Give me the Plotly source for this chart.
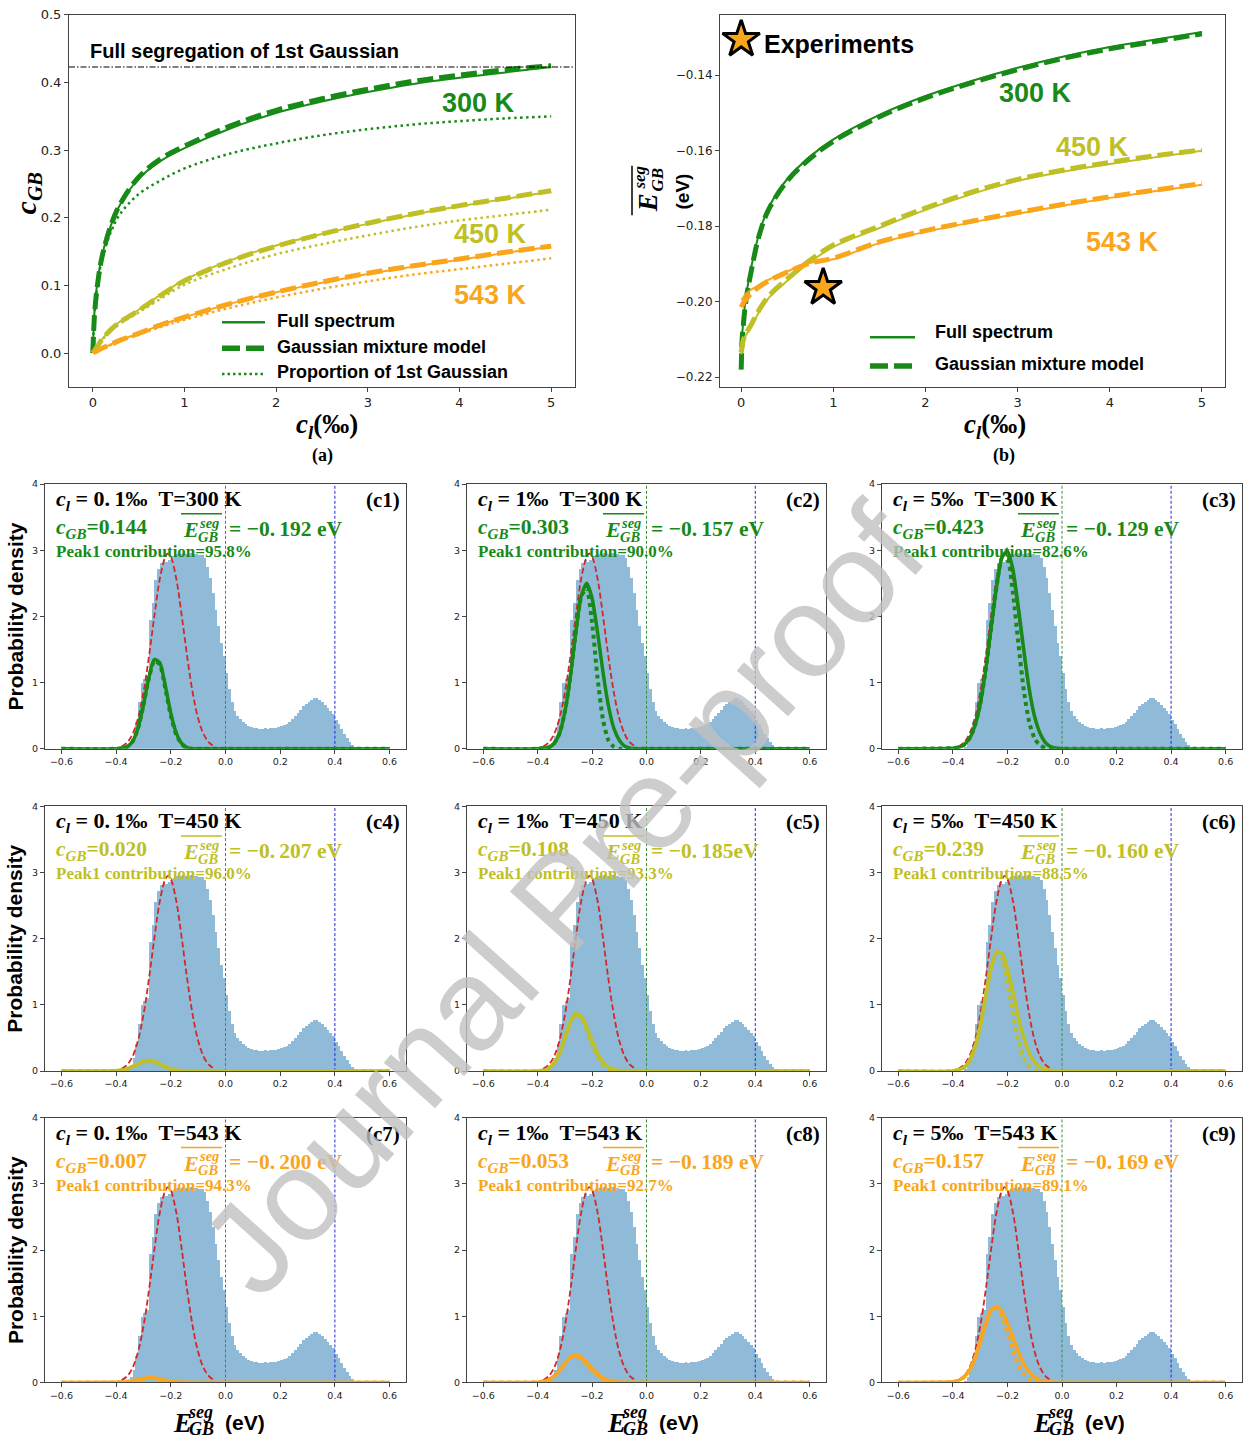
import plotly.graph_objects as go

W, H = 1245, 1445

GREEN = "#178a17"
OLIVE = "#bfbf26"
ORANGE = "#f9a61c"
HIST_BLUE = "rgba(31,119,180,0.5)"
RED = "#d62728"

# ---------------- panel (a) / (b) data ----------------
CL = [0, 0.01, 0.02, 0.05, 0.1, 0.2, 0.3, 0.5, 0.75, 1, 1.5, 2, 2.5, 3, 3.5, 4, 4.5, 5]

CGB_FULL_300 = [0, 0.04, 0.065, 0.105, 0.144, 0.19, 0.22, 0.258, 0.285, 0.303, 0.332, 0.355, 0.372, 0.386, 0.398, 0.407, 0.415, 0.423]
CGB_GMM_300 = [0, 0.035, 0.06, 0.10, 0.142, 0.19, 0.221, 0.26, 0.288, 0.306, 0.336, 0.359, 0.376, 0.39, 0.402, 0.411, 0.419, 0.425]
CGB_P1_300 = [0, 0.038, 0.063, 0.10, 0.138, 0.18, 0.206, 0.235, 0.256, 0.273, 0.295, 0.31, 0.322, 0.331, 0.338, 0.343, 0.347, 0.35]

CGB_FULL_450 = [0, 0.002, 0.004, 0.01, 0.02, 0.036, 0.047, 0.064, 0.087, 0.108, 0.137, 0.159, 0.176, 0.191, 0.205, 0.217, 0.228, 0.239]
CGB_GMM_450 = [0, 0.002, 0.004, 0.01, 0.02, 0.035, 0.046, 0.063, 0.086, 0.107, 0.136, 0.158, 0.176, 0.192, 0.206, 0.218, 0.229, 0.24]
CGB_P1_450 = [0, 0.002, 0.004, 0.0095, 0.019, 0.034, 0.044, 0.06, 0.081, 0.101, 0.126, 0.146, 0.161, 0.174, 0.186, 0.196, 0.204, 0.212]

CGB_FULL_543 = [0, 0.001, 0.0015, 0.0035, 0.007, 0.013, 0.019, 0.029, 0.042, 0.053, 0.073, 0.09, 0.104, 0.117, 0.128, 0.138, 0.148, 0.157]
CGB_GMM_543 = [0, 0.001, 0.0015, 0.0035, 0.007, 0.013, 0.019, 0.029, 0.042, 0.053, 0.073, 0.09, 0.105, 0.118, 0.129, 0.139, 0.149, 0.158]
CGB_P1_543 = [0, 0.001, 0.0014, 0.0033, 0.0066, 0.012, 0.018, 0.027, 0.039, 0.049, 0.067, 0.082, 0.095, 0.106, 0.116, 0.124, 0.132, 0.14]

FULL_SEG_LEVEL = 0.423

ESEG_FULL_300 = [-0.218, -0.209, -0.206, -0.199, -0.192, -0.1815, -0.175, -0.1675, -0.1615, -0.157, -0.1505, -0.1455, -0.1415, -0.138, -0.135, -0.1325, -0.1305, -0.1285]
ESEG_GMM_300 = [-0.218, -0.210, -0.207, -0.200, -0.193, -0.182, -0.1755, -0.168, -0.162, -0.1575, -0.151, -0.146, -0.142, -0.1385, -0.1355, -0.133, -0.131, -0.129]
ESEG_FULL_450 = [-0.214, -0.2125, -0.211, -0.209, -0.207, -0.2025, -0.199, -0.1945, -0.1895, -0.1855, -0.1805, -0.1757, -0.1715, -0.168, -0.1655, -0.1635, -0.1617, -0.160]
ESEG_GMM_450 = [-0.2135, -0.212, -0.2105, -0.2085, -0.2065, -0.202, -0.1985, -0.194, -0.189, -0.185, -0.180, -0.1752, -0.171, -0.1676, -0.1651, -0.1631, -0.1613, -0.1598]
ESEG_FULL_543 = [-0.1995, -0.1993, -0.199, -0.198, -0.197, -0.1955, -0.1942, -0.192, -0.1897, -0.1888, -0.1845, -0.1815, -0.179, -0.1767, -0.1745, -0.1725, -0.1707, -0.169]
ESEG_GMM_543 = [-0.2015, -0.201, -0.2005, -0.1995, -0.198, -0.196, -0.1945, -0.1922, -0.1898, -0.1885, -0.1842, -0.1812, -0.1787, -0.1764, -0.1742, -0.1722, -0.1704, -0.1687]

EXP_CL = [0.89]
EXP_ESEG = [-0.1963]

# ---------------- histogram panels data ----------------
BIN_START = -0.36
BIN_WIDTH = 0.01
HIST_DENSITY = [0.03, 0.08, 0.2, 0.4, 0.7, 1.0, 1.05, 1.1, 1.95, 2.2,
                2.55, 2.72, 2.8, 2.85, 2.82, 2.85, 2.9, 2.93, 2.95, 2.95,
                2.96, 2.95, 2.95, 2.96, 2.95, 2.94, 2.93, 2.92, 2.88, 2.75,
                2.58, 2.35, 2.1, 1.85, 1.6, 1.4,
                1.15, 0.9, 0.7, 0.57, 0.5, 0.45, 0.41, 0.38, 0.35, 0.33,
                0.32, 0.31, 0.3, 0.3, 0.31, 0.3, 0.31, 0.32, 0.32, 0.33,
                0.34, 0.36, 0.38, 0.41, 0.45, 0.49, 0.54, 0.59, 0.64, 0.68,
                0.71, 0.74, 0.76, 0.76, 0.74, 0.71, 0.66, 0.62, 0.57, 0.52,
                0.44, 0.37, 0.3, 0.23, 0.16, 0.1, 0.06, 0.03]

PEAK1_X = [-0.38, -0.36, -0.34, -0.32, -0.30, -0.28, -0.26, -0.24, -0.22, -0.21, -0.20, -0.18, -0.16, -0.14, -0.12, -0.10, -0.08, -0.06, -0.04]
PEAK1_Y = [0.034, 0.093, 0.22, 0.46, 0.85, 1.39, 2.01, 2.57, 2.90, 2.95, 2.90, 2.57, 2.01, 1.39, 0.85, 0.46, 0.22, 0.093, 0.034]

CURVE_X = [-0.60, -0.40, -0.38, -0.36, -0.34, -0.32, -0.30, -0.28, -0.26, -0.24, -0.22, -0.20,
           -0.18, -0.16, -0.14, -0.12, -0.10, -0.08, -0.06, -0.04, -0.02, 0.00, 0.60]

SEG_FULL = [
    [0, 0.00, 0.01, 0.03, 0.11, 0.31, 0.66, 1.08, 1.35, 1.30, 0.95, 0.54, 0.24, 0.08, 0.02, 0.00, 0, 0, 0, 0, 0, 0, 0],
    [0, 0.00, 0.01, 0.02, 0.08, 0.23, 0.56, 1.09, 1.76, 2.31, 2.50, 2.27, 1.76, 1.16, 0.65, 0.31, 0.13, 0.04, 0.01, 0, 0, 0, 0],
    [0, 0.01, 0.02, 0.06, 0.15, 0.34, 0.67, 1.19, 1.82, 2.44, 2.89, 2.99, 2.71, 2.14, 1.49, 0.90, 0.48, 0.23, 0.09, 0.03, 0.01, 0, 0],
    [0, 0.004, 0.014, 0.033, 0.066, 0.108, 0.145, 0.16, 0.145, 0.108, 0.066, 0.033, 0.014, 0.004, 0.001, 0, 0, 0, 0, 0, 0, 0, 0],
    [0, 0.00, 0.01, 0.04, 0.12, 0.27, 0.50, 0.74, 0.87, 0.83, 0.67, 0.46, 0.27, 0.14, 0.06, 0.02, 0.01, 0, 0, 0, 0, 0, 0],
    [0, 0.00, 0.02, 0.05, 0.15, 0.35, 0.68, 1.13, 1.56, 1.80, 1.78, 1.55, 1.20, 0.82, 0.51, 0.27, 0.13, 0.06, 0.02, 0.01, 0, 0, 0],
    [0, 0.002, 0.005, 0.012, 0.025, 0.042, 0.06, 0.07, 0.066, 0.052, 0.033, 0.017, 0.008, 0.003, 0.001, 0, 0, 0, 0, 0, 0, 0, 0],
    [0, 0.004, 0.014, 0.04, 0.095, 0.18, 0.29, 0.38, 0.41, 0.38, 0.30, 0.21, 0.13, 0.07, 0.034, 0.014, 0.005, 0.002, 0, 0, 0, 0, 0],
    [0, 0.01, 0.03, 0.08, 0.18, 0.36, 0.61, 0.89, 1.09, 1.15, 1.07, 0.89, 0.68, 0.46, 0.28, 0.16, 0.08, 0.03, 0.01, 0.005, 0, 0, 0],
]
SEG_PEAK1 = [
    [0, 0.00, 0.01, 0.03, 0.11, 0.31, 0.66, 1.07, 1.33, 1.27, 0.91, 0.50, 0.21, 0.07, 0.01, 0, 0, 0, 0, 0, 0, 0, 0],
    [0, 0.00, 0.01, 0.02, 0.08, 0.23, 0.56, 1.09, 1.76, 2.30, 2.43, 1.90, 1.07, 0.44, 0.13, 0.03, 0, 0, 0, 0, 0, 0, 0],
    [0, 0.01, 0.02, 0.06, 0.15, 0.34, 0.67, 1.19, 1.82, 2.44, 2.88, 2.86, 2.36, 1.59, 0.88, 0.40, 0.15, 0.05, 0.01, 0, 0, 0, 0],
    [0, 0.004, 0.014, 0.033, 0.066, 0.107, 0.142, 0.155, 0.138, 0.10, 0.06, 0.029, 0.011, 0.003, 0.001, 0, 0, 0, 0, 0, 0, 0, 0],
    [0, 0.00, 0.01, 0.04, 0.12, 0.27, 0.50, 0.74, 0.86, 0.80, 0.62, 0.40, 0.21, 0.09, 0.03, 0.01, 0, 0, 0, 0, 0, 0, 0],
    [0, 0.00, 0.02, 0.05, 0.15, 0.35, 0.68, 1.13, 1.56, 1.78, 1.70, 1.33, 0.86, 0.45, 0.19, 0.07, 0.02, 0, 0, 0, 0, 0, 0],
    [0, 0.002, 0.005, 0.012, 0.025, 0.041, 0.058, 0.067, 0.062, 0.048, 0.03, 0.015, 0.007, 0.002, 0.001, 0, 0, 0, 0, 0, 0, 0, 0],
    [0, 0.004, 0.014, 0.04, 0.095, 0.18, 0.29, 0.38, 0.40, 0.36, 0.27, 0.18, 0.10, 0.05, 0.02, 0.007, 0.002, 0, 0, 0, 0, 0, 0],
    [0, 0.01, 0.03, 0.08, 0.18, 0.36, 0.61, 0.89, 1.09, 1.13, 1.00, 0.75, 0.48, 0.26, 0.12, 0.05, 0.015, 0, 0, 0, 0, 0, 0],
]

PANEL_CL = ["0.\u20091", "1", "5", "0.\u20091", "1", "5", "0.\u20091", "1", "5"]
PANEL_T = ["300", "300", "300", "450", "450", "450", "543", "543", "543"]
PANEL_CGB = ["0.144", "0.303", "0.423", "0.020", "0.108", "0.239", "0.007", "0.053", "0.157"]
PANEL_ESEG = ["−0.\u2009192 eV", "−0.\u2009157 eV", "−0.\u2009129 eV", "−0.\u2009207 eV", "−0.\u2009185eV",
              "−0.\u2009160 eV", "−0.\u2009200 eV", "−0.\u2009189 eV", "−0.\u2009169 eV"]
PANEL_PEAK1 = ["95.8%", "90.0%", "82.6%", "96.0%", "93.3%", "88.5%", "94.3%", "92.7%", "89.1%"]
PANEL_COLOR = [GREEN, GREEN, GREEN, OLIVE, OLIVE, OLIVE, ORANGE, ORANGE, ORANGE]

HIST_XTICKS = [-0.6, -0.4, -0.2, 0.0, 0.2, 0.4, 0.6]
HIST_YTICKS = [0, 1, 2, 3, 4]

# ---------------- layout geometry (pixels) ----------------
A_BOX = (69, 575, 8, 383)
B_BOX = (720, 1225, 8, 383)
COLS = [(45, 406), (467, 826), (882, 1242)]
ROWS = [(481, 748), (806, 1073), (1120, 1387)]


def fx(p):
    return p / W


def fy(p):
    return 1 - p / H


fig = go.Figure()
annotations = []
shapes = []


def txt(x, y, text, size, color="black", family="Liberation Sans", xanchor="left", angle=0, yanchor="middle"):
    annotations.append(dict(x=fx(x), y=fy(y), xref="paper", yref="paper", text=text, showarrow=False,
                            xanchor=xanchor, yanchor=yanchor, textangle=angle, borderpad=0,
                            font=dict(family=family, size=size, color=color)))


def pline(x0, y0, x1, y1, color, width, dash="solid"):
    shapes.append(dict(type="line", xref="paper", yref="paper", x0=fx(x0), y0=fy(y0), x1=fx(x1), y1=fy(y1),
                       line=dict(color=color, width=width, dash=dash)))


def axis_style(size):
    return dict(showline=True, mirror=True, linecolor="#444", linewidth=1, ticks="outside", ticklen=4,
                tickcolor="#444", tickfont=dict(family="DejaVu Sans", size=size, color="#222"),
                showgrid=False, zeroline=False)


layout_axes = {}
# (a)
layout_axes["xaxis"] = dict(domain=[fx(A_BOX[0]), fx(A_BOX[1])], range=[-0.26, 5.26], tickvals=[0, 1, 2, 3, 4, 5],
                            anchor="y", **axis_style(13))
layout_axes["yaxis"] = dict(domain=[fy(A_BOX[3]), fy(A_BOX[2])], range=[-0.05, 0.5],
                            tickvals=[0, 0.1, 0.2, 0.3, 0.4, 0.5], tickformat=".1f", anchor="x", **axis_style(13))
# (b)
layout_axes["xaxis2"] = dict(domain=[fx(B_BOX[0]), fx(B_BOX[1])], range=[-0.23, 5.25], tickvals=[0, 1, 2, 3, 4, 5],
                             anchor="y2", **axis_style(13))
layout_axes["yaxis2"] = dict(domain=[fy(B_BOX[3]), fy(B_BOX[2])], range=[-0.2226, -0.124],
                             tickvals=[-0.22, -0.20, -0.18, -0.16, -0.14], tickformat=".2f", anchor="x2",
                             **axis_style(12))

# ---------------- panel (a) traces ----------------
for full, gmm, p1, col in [(CGB_FULL_300, CGB_GMM_300, CGB_P1_300, GREEN),
                           (CGB_FULL_450, CGB_GMM_450, CGB_P1_450, OLIVE),
                           (CGB_FULL_543, CGB_GMM_543, CGB_P1_543, ORANGE)]:
    fig.add_trace(go.Scatter(x=CL, y=p1, mode="lines", line=dict(color=col, width=2.5, dash="2.5px,3.5px", shape="spline"),
                             xaxis="x", yaxis="y"))
    fig.add_trace(go.Scatter(x=CL, y=gmm, mode="lines", line=dict(color=col, width=5, dash="16px,6px", shape="spline"),
                             xaxis="x", yaxis="y"))
    fig.add_trace(go.Scatter(x=CL, y=full, mode="lines", line=dict(color=col, width=2, shape="spline"),
                             xaxis="x", yaxis="y"))
fig.add_trace(go.Scatter(x=[-0.26, 5.26], y=[FULL_SEG_LEVEL, FULL_SEG_LEVEL], mode="lines",
                         line=dict(color="black", width=1.2, dash="6px,2px,1.5px,2px"), xaxis="x", yaxis="y"))

txt(89, 44, "<b>Full segregation of 1st Gaussian</b>", 20)
txt(479, 97, "<b>300 K</b>", 27, GREEN, xanchor="center")
txt(490, 229, "<b>450 K</b>", 27, OLIVE, xanchor="center")
txt(490, 290, "<b>543 K</b>", 27, ORANGE, xanchor="center")
# legend (a)
pline(222, 318, 265, 318, GREEN, 2.5)
pline(222, 344, 265, 344, GREEN, 5.5, "18px,6px")
pline(222, 370, 265, 370, GREEN, 2.5, "2.5px,3px")
txt(276, 317, "<b>Full spectrum</b>", 18)
txt(276, 343, "<b>Gaussian mixture model</b>", 18)
txt(276, 368, "<b>Proportion of 1st Gaussian</b>", 18)
# axis labels (a)
txt(28, 188, "<b><i>c</i><sub><i>GB</i></sub></b>", 30, family="Liberation Serif", xanchor="center", angle=-90)
txt(327, 423, "<b><i>c</i><sub><i>l</i></sub>(‰)</b>", 27, family="Liberation Serif", xanchor="center")
txt(322, 452, "<b>(a)</b>", 18, family="Liberation Serif", xanchor="center")

# ---------------- panel (b) traces ----------------
for full, gmm, col in [(ESEG_FULL_300, ESEG_GMM_300, GREEN),
                       (ESEG_FULL_450, ESEG_GMM_450, OLIVE),
                       (ESEG_FULL_543, ESEG_GMM_543, ORANGE)]:
    fig.add_trace(go.Scatter(x=CL, y=gmm, mode="lines", line=dict(color=col, width=5, dash="16px,6px", shape="spline"),
                             xaxis="x2", yaxis="y2"))
    fig.add_trace(go.Scatter(x=CL, y=full, mode="lines", line=dict(color=col, width=2, shape="spline"),
                             xaxis="x2", yaxis="y2"))
fig.add_trace(go.Scatter(x=EXP_CL, y=EXP_ESEG, mode="markers",
                         marker=dict(symbol="star", size=28, color=ORANGE, line=dict(color="black", width=3)),
                         xaxis="x2", yaxis="y2"))
# legend star (key for "Experiments")
fig.add_trace(go.Scatter(x=[0.0], y=[-0.1305], mode="markers",
                         marker=dict(symbol="star", size=28, color=ORANGE, line=dict(color="black", width=3)),
                         xaxis="x2", yaxis="y2"))
txt(763, 37, "<b>Experiments</b>", 25)
txt(1035, 87, "<b>300 K</b>", 27, GREEN, xanchor="center")
txt(1092, 141, "<b>450 K</b>", 27, OLIVE, xanchor="center")
txt(1122, 237, "<b>543 K</b>", 27, ORANGE, xanchor="center")
pline(870, 333, 915, 333, GREEN, 2.5)
pline(870, 362, 915, 362, GREEN, 5.5, "18px,6px")
txt(934, 328, "<b>Full spectrum</b>", 18)
txt(934, 360, "<b>Gaussian mixture model</b>", 18)
# y label (b)
pline(632, 160, 632, 210, "black", 1.5)
txt(648, 198, "<b><i>E</i></b>", 27, family="Liberation Serif", xanchor="center", angle=-90)
txt(640, 172, "<b><i>seg</i></b>", 17, family="Liberation Serif", xanchor="center", angle=-90)
txt(658, 174, "<b><i>GB</i></b>", 17, family="Liberation Serif", xanchor="center", angle=-90)
txt(682, 186, "<b>(eV)</b>", 19, xanchor="center", angle=-90)
txt(995, 423, "<b><i>c</i><sub><i>l</i></sub>(‰)</b>", 27, family="Liberation Serif", xanchor="center")
txt(1004, 452, "<b>(b)</b>", 18, family="Liberation Serif", xanchor="center")

# ---------------- histogram panels ----------------
bin_x = [round(BIN_START + BIN_WIDTH * (i + 0.5), 4) for i in range(len(HIST_DENSITY))]
NB = "\u00a0"
for k in range(9):
    r, c = divmod(k, 3)
    L, R = COLS[c]
    T, B = ROWS[r]
    xa, ya = "x%d" % (k + 3), "y%d" % (k + 3)
    layout_axes["xaxis%d" % (k + 3)] = dict(domain=[fx(L), fx(R)], range=[-0.66, 0.66], tickvals=HIST_XTICKS,
                                            tickformat=".1f", anchor=ya, **axis_style(9.5))
    layout_axes["yaxis%d" % (k + 3)] = dict(domain=[fy(B), fy(T)], range=[0, 4], tickvals=HIST_YTICKS,
                                            anchor=xa, **axis_style(9.5))
    col = PANEL_COLOR[k]
    fig.add_trace(go.Bar(x=bin_x, y=HIST_DENSITY, width=BIN_WIDTH, marker=dict(color=HIST_BLUE, line=dict(width=0)),
                         xaxis=xa, yaxis=ya))
    fig.add_trace(go.Scatter(x=PEAK1_X, y=PEAK1_Y, mode="lines", line=dict(color=RED, width=1.8, dash="6px,3px", shape="spline"),
                             xaxis=xa, yaxis=ya))
    fig.add_trace(go.Scatter(x=[0, 0], y=[0, 4], mode="lines", line=dict(color="#3a8f3a", width=1, dash="3px,2px"),
                             xaxis=xa, yaxis=ya))
    fig.add_trace(go.Scatter(x=[0.4, 0.4], y=[0, 4], mode="lines", line=dict(color="#2424e0", width=1, dash="3px,2px"),
                             xaxis=xa, yaxis=ya))
    fig.add_trace(go.Scatter(x=CURVE_X, y=SEG_PEAK1[k], mode="lines",
                             line=dict(color=col, width=4, dash="dot", shape="spline", smoothing=0.6),
                             xaxis=xa, yaxis=ya))
    fig.add_trace(go.Scatter(x=CURVE_X, y=SEG_FULL[k], mode="lines",
                             line=dict(color=col, width=3.5, shape="spline", smoothing=0.6),
                             xaxis=xa, yaxis=ya))
    # texts
    txt(L + 10, T + 16, "<b><i>c</i><sub><i>l</i></sub> = %s‰%s%sT=%s K</b>" % (PANEL_CL[k], NB, NB, PANEL_T[k]),
        22, "black", "Liberation Serif")
    txt(R - 5, T + 16, "<b>(c%d)</b>" % (k + 1), 21, "black", "Liberation Serif", xanchor="right")
    txt(L + 10, T + 45, "<b><i>c</i><sub><i>GB</i></sub>=%s</b>" % PANEL_CGB[k], 21.5, col, "Liberation Serif")
    txt(L + 137, T + 46, "<b><i>E</i></b>", 22, col, "Liberation Serif")
    txt(L + 153, T + 39, "<b><i>seg</i></b>", 14.5, col, "Liberation Serif")
    txt(L + 152, T + 53, "<b><i>GB</i></b>", 14.5, col, "Liberation Serif")
    pline(L + 136, T + 30, L + 177, T + 30, col, 1.5)
    txt(L + 183, T + 45, "<b>= %s</b>" % PANEL_ESEG[k], 21.5, col, "Liberation Serif")
    txt(L + 10, T + 68, "<b>Peak1 contribution=%s</b>" % PANEL_PEAK1[k], 17, col, "Liberation Serif")

for r in range(3):
    txt(15, (ROWS[r][0] + ROWS[r][1]) / 2, "<b>Probability density</b>", 21, xanchor="center", angle=-90)

for xe in [172, 606, 1032]:
    txt(xe, 1428, "<b><i>E</i></b>", 27, family="Liberation Serif")
    txt(xe + 15, 1417, "<b><i>seg</i></b>", 18, family="Liberation Serif")
    txt(xe + 16, 1434, "<b><i>GB</i></b>", 18, family="Liberation Serif")
    txt(xe + 52, 1427, "<b>(eV)</b>", 21)

# watermark
annotations.append(dict(x=fx(562), y=fy(900), xref="paper", yref="paper", text="Journal Pre-proof",
                        showarrow=False, xanchor="center", yanchor="middle", textangle=-48,
                        font=dict(family="Liberation Sans", size=130, color="rgba(192,192,192,0.8)")))

fig.update_layout(width=W, height=H, margin=dict(l=0, r=0, t=0, b=0), paper_bgcolor="white", plot_bgcolor="white",
                  showlegend=False, bargap=0, annotations=annotations, shapes=shapes, **layout_axes)

fig.write_html("out.html", config={"displayModeBar": False},
               post_script="document.body.style.margin='0px';document.body.style.overflow='hidden';")
